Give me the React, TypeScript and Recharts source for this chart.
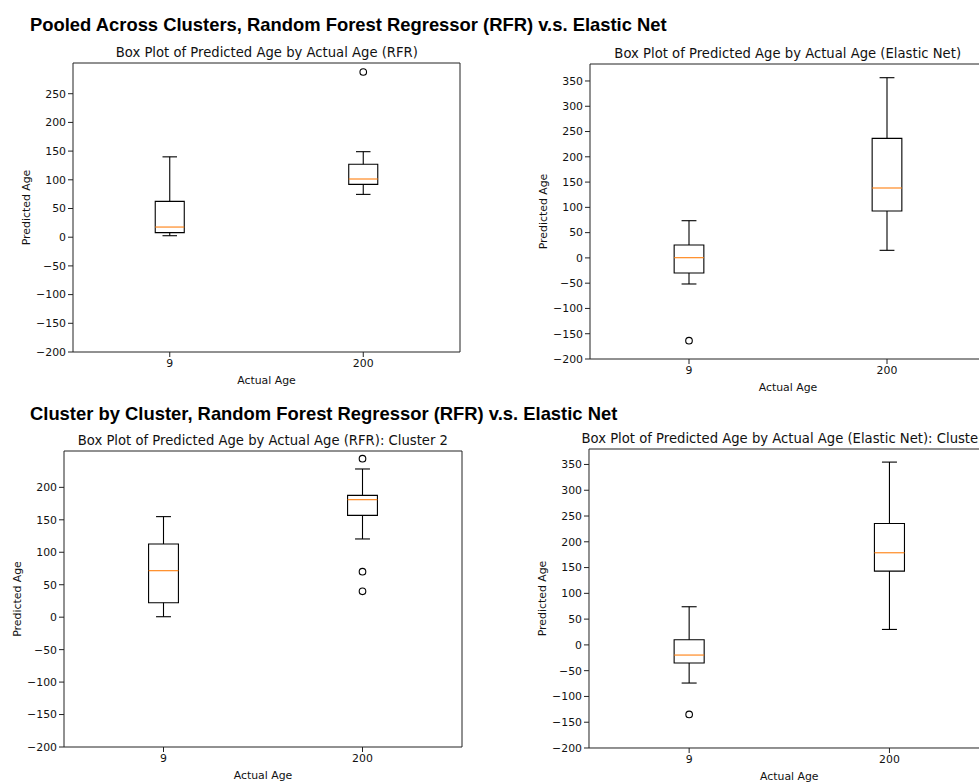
import React from "react";
import {
  ComposedChart,
  XAxis,
  YAxis,
  ReferenceArea,
  ReferenceLine,
  Scatter,
} from "recharts";

// x categories (matplotlib places the boxes at positions 1 and 2)
const categories = ["9", "200"];
const positions = [1, 2];

// pooled, RFR
const pooledRfrLow = [2.6, 74.6];
const pooledRfrQ1 = [8, 92];
const pooledRfrMedian = [17.7, 101.4];
const pooledRfrQ3 = [62.4, 127];
const pooledRfrHigh = [140, 149];
const pooledRfrOutliers = [[], [287.8]];

// pooled, Elastic Net
const pooledEnLow = [-51.6, 15];
const pooledEnQ1 = [-29.9, 92.8];
const pooledEnMedian = [0.4, 138.3];
const pooledEnQ3 = [25.5, 236.5];
const pooledEnHigh = [73.6, 356.5];
const pooledEnOutliers = [[-163.8], []];

// cluster 2, RFR
const clusterRfrLow = [0.7, 120.5];
const clusterRfrQ1 = [22.3, 156.9];
const clusterRfrMedian = [71.6, 181];
const clusterRfrQ3 = [112.7, 187.7];
const clusterRfrHigh = [154.9, 228.3];
const clusterRfrOutliers = [[], [244.2, 70.1, 39.8]];

// cluster 2, Elastic Net
const clusterEnLow = [-74, 30];
const clusterEnQ1 = [-35.2, 143.2];
const clusterEnMedian = [-19.7, 178.7];
const clusterEnQ3 = [10, 235.6];
const clusterEnHigh = [74, 354.6];
const clusterEnOutliers = [[-134.9], []];

// y tick labels
const ticksTo250 = [-200, -150, -100, -50, 0, 50, 100, 150, 200, 250];
const ticksTo350 = [-200, -150, -100, -50, 0, 50, 100, 150, 200, 250, 300, 350];
const ticksTo200 = [-200, -150, -100, -50, 0, 50, 100, 150, 200];

const BOX_WIDTH = 0.15;
const FONT = "'DejaVu Sans', sans-serif";
const TEXT = "#111";

type Stats = {
  low: number[];
  q1: number[];
  median: number[];
  q3: number[];
  high: number[];
  outliers: number[][];
};

type PanelProps = {
  title: string;
  stats: Stats;
  yMax: number;
  yTicks: number[];
  plotLeft: number;
  plotTop: number;
  plotWidth: number;
  plotHeight: number;
};

const fmt = (v: number) => (v < 0 ? "\u2212" + Math.abs(v) : String(v));

function OutlierDot(props: any) {
  const { cx, cy } = props;
  if (cx == null || cy == null) return null;
  return <circle cx={cx} cy={cy} r={3.3} fill="none" stroke="#000" strokeWidth={1.1} />;
}

function BoxPanel({ title, stats, yMax, yTicks, plotLeft, plotTop, plotWidth, plotHeight }: PanelProps) {
  const rows = positions.map((pos, i) => ({
    pos,
    low: stats.low[i],
    q1: stats.q1[i],
    median: stats.median[i],
    q3: stats.q3[i],
    high: stats.high[i],
  }));
  const fliers = positions.flatMap((pos, i) =>
    stats.outliers[i].map((value) => ({ pos, value }))
  );
  const half = BOX_WIDTH / 2;
  const cap = BOX_WIDTH / 4;

  return (
    <div style={{ position: "absolute", left: plotLeft - 70, top: plotTop - 10 }}>
      <ComposedChart
        width={plotWidth + 80}
        height={plotHeight + 55}
        data={rows}
        margin={{ top: 10, right: 10, bottom: 5, left: 10 }}
      >
        <XAxis
          type="number"
          dataKey="pos"
          domain={[0.5, 2.5]}
          ticks={positions}
          allowDataOverflow
          tickFormatter={(v) => categories[positions.indexOf(v)]}
          axisLine={false}
          tickSize={5}
          tickMargin={2}
          tickLine={{ stroke: "#222" }}
          tick={{ fill: TEXT, fontSize: 10.9, fontFamily: FONT }}
          height={40}
          label={{
            value: "Actual Age",
            position: "insideBottom",
            offset: 8,
            fill: TEXT,
            fontSize: 10.9,
            fontFamily: FONT,
          }}
        />
        <YAxis
          type="number"
          domain={[-200, yMax]}
          ticks={yTicks}
          allowDataOverflow
          tickFormatter={fmt}
          axisLine={false}
          tickSize={5}
          tickMargin={2}
          tickLine={{ stroke: "#222" }}
          tick={{ fill: TEXT, fontSize: 10.9, fontFamily: FONT }}
          width={60}
          label={{
            value: "Predicted Age",
            angle: -90,
            position: "insideLeft",
            offset: 13,
            fill: TEXT,
            fontSize: 10.9,
            fontFamily: FONT,
            style: { textAnchor: "middle" },
          }}
        />
        <ReferenceArea
          x1={0.5}
          x2={2.5}
          y1={-200}
          y2={yMax}
          fill="none"
          stroke="#222"
          strokeWidth={1}
          ifOverflow="visible"
        />
        {rows.map((r) => (
          <React.Fragment key={r.pos}>
            <ReferenceLine segment={[{ x: r.pos, y: r.low }, { x: r.pos, y: r.q1 }]} stroke="#000" strokeWidth={1.1} />
            <ReferenceLine segment={[{ x: r.pos, y: r.q3 }, { x: r.pos, y: r.high }]} stroke="#000" strokeWidth={1.1} />
            <ReferenceLine segment={[{ x: r.pos - cap, y: r.low }, { x: r.pos + cap, y: r.low }]} stroke="#000" strokeWidth={1.1} />
            <ReferenceLine segment={[{ x: r.pos - cap, y: r.high }, { x: r.pos + cap, y: r.high }]} stroke="#000" strokeWidth={1.1} />
            <ReferenceArea
              x1={r.pos - half}
              x2={r.pos + half}
              y1={r.q1}
              y2={r.q3}
              fill="none"
              stroke="#000"
              strokeWidth={1.1}
            />
            <ReferenceLine
              segment={[{ x: r.pos - half, y: r.median }, { x: r.pos + half, y: r.median }]}
              stroke="#ff7f0e"
              strokeWidth={1.1}
            />
          </React.Fragment>
        ))}
        <Scatter data={fliers} dataKey="value" isAnimationActive={false} shape={OutlierDot} />
      </ComposedChart>
      <div
        style={{
          position: "absolute",
          left: 70 + plotWidth / 2,
          top: -0.6,
          transform: "translate(-50%, -50%)",
          whiteSpace: "nowrap",
          fontFamily: FONT,
          fontSize: 13.2,
          lineHeight: 1,
          color: TEXT,
        }}
      >
        {title}
      </div>
    </div>
  );
}

const suptitleStyle: React.CSSProperties = {
  position: "absolute",
  left: 30,
  fontFamily: "'Liberation Sans', Arial, sans-serif",
  fontWeight: "bold",
  fontSize: 18.4,
  lineHeight: "18px",
  color: "#000",
  whiteSpace: "nowrap",
};

export default function App() {
  return (
    <div
      style={{
        position: "relative",
        width: 979,
        height: 782,
        overflow: "hidden",
        background: "#fff",
      }}
    >
      <style>{"body{margin:0}"}</style>
      <div style={{ ...suptitleStyle, top: 16.3 }}>
        Pooled Across Clusters, Random Forest Regressor (RFR) v.s. Elastic Net
      </div>
      <div style={{ ...suptitleStyle, top: 404.6 }}>
        Cluster by Cluster, Random Forest Regressor (RFR) v.s. Elastic Net
      </div>
      <BoxPanel
        title="Box Plot of Predicted Age by Actual Age (RFR)"
        stats={{
          low: pooledRfrLow,
          q1: pooledRfrQ1,
          median: pooledRfrMedian,
          q3: pooledRfrQ3,
          high: pooledRfrHigh,
          outliers: pooledRfrOutliers,
        }}
        yMax={303.5}
        yTicks={ticksTo250}
        plotLeft={73.3}
        plotTop={63.3}
        plotWidth={387}
        plotHeight={289}
      />
      <BoxPanel
        title="Box Plot of Predicted Age by Actual Age (Elastic Net)"
        stats={{
          low: pooledEnLow,
          q1: pooledEnQ1,
          median: pooledEnMedian,
          q3: pooledEnQ3,
          high: pooledEnHigh,
          outliers: pooledEnOutliers,
        }}
        yMax={383.6}
        yTicks={ticksTo350}
        plotLeft={589.7}
        plotTop={64.3}
        plotWidth={396}
        plotHeight={295}
      />
      <BoxPanel
        title="Box Plot of Predicted Age by Actual Age (RFR): Cluster 2"
        stats={{
          low: clusterRfrLow,
          q1: clusterRfrQ1,
          median: clusterRfrMedian,
          q3: clusterRfrQ3,
          high: clusterRfrHigh,
          outliers: clusterRfrOutliers,
        }}
        yMax={256}
        yTicks={ticksTo200}
        plotLeft={63.8}
        plotTop={451.3}
        plotWidth={398}
        plotHeight={296}
      />
      <BoxPanel
        title="Box Plot of Predicted Age by Actual Age (Elastic Net): Cluster 2"
        stats={{
          low: clusterEnLow,
          q1: clusterEnQ1,
          median: clusterEnMedian,
          q3: clusterEnQ3,
          high: clusterEnHigh,
          outliers: clusterEnOutliers,
        }}
        yMax={380}
        yTicks={ticksTo350}
        plotLeft={588.5}
        plotTop={449.3}
        plotWidth={400.6}
        plotHeight={299}
      />
    </div>
  );
}
